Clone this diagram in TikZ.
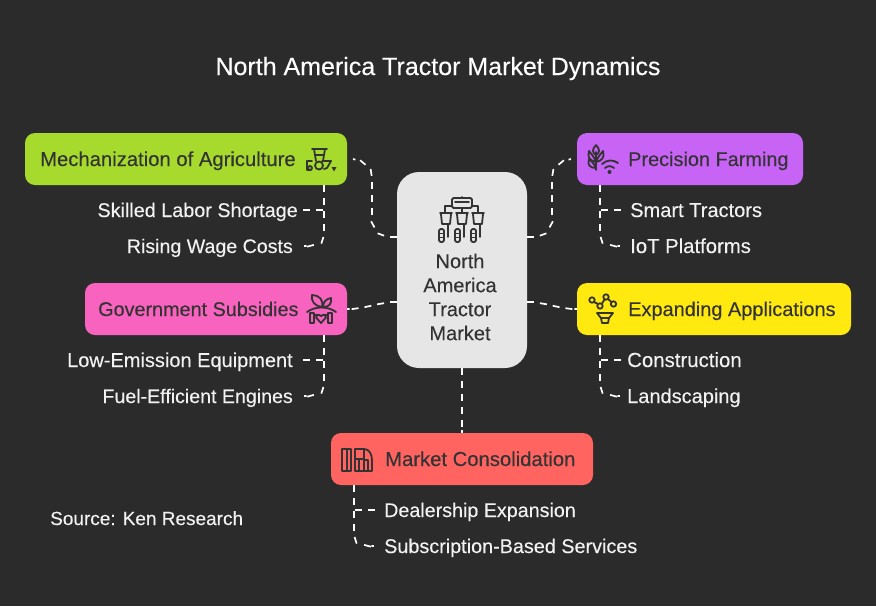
\documentclass[tikz,border=0pt]{standalone}
\usepackage{fontspec}
\setmainfont{Liberation Sans}
\newfontfamily\medfont[FakeBold=0.2]{Liberation Sans}
\usetikzlibrary{decorations.markings}
\definecolor{bgc}{HTML}{2B2B2B}
\definecolor{ink}{HTML}{333333}
\definecolor{lbl}{HTML}{F2F2F2}
\definecolor{cgreen}{HTML}{A6DB2E}
\definecolor{cpurple}{HTML}{C763F5}
\definecolor{cpink}{HTML}{F763BE}
\definecolor{cyellow}{HTML}{FFE90F}
\definecolor{cred}{HTML}{FF6461}
\definecolor{cgrey}{HTML}{E6E6E6}
\tikzset{
  x=1pt,y=-1pt,
  card/.style={rounded corners=10pt,inner sep=0pt,minimum height=52pt},
  hub/.style={fill=cgrey,rounded corners=22pt,minimum width=130pt,minimum height=196pt,inner sep=0pt},
  cardtext/.style={text=ink,inner sep=0pt,anchor=base west,font=\medfont\fontsize{#1}{24}\selectfont},
  subeast/.style={text=lbl,inner sep=0pt,anchor=base east,font=\medfont\fontsize{#1}{24}\selectfont},
  subwest/.style={text=lbl,inner sep=0pt,anchor=base west,font=\medfont\fontsize{#1}{24}\selectfont},
  link/.style={decorate,decoration={markings,
    mark=between positions 0 and -6pt step 13pt with {\draw[white,line width=1.7pt] (0,0) -- (7,0);},
    mark=at position 0.9999 with {\draw[white,line width=1.7pt] (-2.5,0) -- (0,0);}}},
  glyph/.style={draw=ink,line width=1.8pt,line cap=round,line join=round},
}
\begin{document}
\begin{tikzpicture}
\useasboundingbox (0,0) rectangle (876,606);
\fill[bgc] (0,0) rectangle (876,606);
\node[text=white,font=\medfont\fontsize{25}{30}\selectfont,inner sep=0pt,anchor=base] (title) at (438,75) {North America Tractor Market Dynamics};
\node[hub] (center) at (462,270) {};
\node[text=ink,font=\medfont\fontsize{20}{24}\selectfont,align=center,inner sep=0pt,anchor=center] (centerlabel) at (460,297) {North\\America\\Tractor\\Market};
\node[card,fill=cgreen,minimum width=322pt] (mech) at (186,159) {};
\node[card,fill=cpurple,minimum width=226pt] (prec) at (690,159) {};
\node[card,fill=cpink,minimum width=262pt] (gov) at (216,309) {};
\node[card,fill=cyellow,minimum width=274pt] (expa) at (714,309) {};
\node[card,fill=cred,minimum width=262pt] (cons) at (462,459) {};
% card labels
\node[cardtext=20.25] (t1) at (40,166) {Mechanization of Agriculture};
\node[cardtext=19.9] (t2) at (628,166) {Precision Farming};
\node[cardtext=19.8] (t3) at (98,316) {Government Subsidies};
\node[cardtext=19.95] (t4) at (628,316) {Expanding Applications};
\node[cardtext=20.25] (t5) at (385,466) {Market Consolidation};
% sub labels
\node[subeast=19.8] (a1) at (298,217) {Skilled Labor Shortage};
\node[subeast=19.6] (a2) at (293,253) {Rising Wage Costs};
\node[subwest=20.05] (b1) at (630,217) {Smart Tractors};
\node[subwest=20.3] (b2) at (630,253) {IoT Platforms};
\node[subeast=20] (c1) at (293,367) {Low-Emission Equipment};
\node[subeast=19.6] (c2) at (293,403) {Fuel-Efficient Engines};
\node[subwest=20.4] (d1) at (627,367) {Construction};
\node[subwest=20] (d2) at (627,403) {Landscaping};
\node[subwest=19.7] (e1) at (384,517) {Dealership Expansion};
\node[subwest=19.8] (e2) at (384,553) {Subscription-Based Services};
\node[subwest=19] (src) at (50,525) {Source: Ken Research};
% hub links
\coordinate (hl1) at (397,237);
\coordinate (hl2) at (527,237);
\coordinate (hl3) at (397,302);
\coordinate (hl4) at (527,302);
\coordinate (ml) at (353,159);
\coordinate (pl) at (571,159);
\path[link] (hl1) -- (392,237) .. controls (380,237) and (372,229) .. (372,217) -- (372,180) .. controls (372,168) and (365,162) .. (ml);
\path[link] (hl2) -- (532,237) .. controls (544,237) and (552,229) .. (552,217) -- (552,180) .. controls (552,168) and (559,162) .. (pl);
\path[link] (hl3) .. controls (380,302) and (365,309) .. (gov.east);
\path[link] (hl4) .. controls (544,302) and (559,309) .. (expa.west);
\path[link] (center.south) -- (cons.north);
% sub links
\coordinate (m0) at (324,185);
\coordinate (p0) at (600,185);
\coordinate (g0) at (324,335);
\coordinate (x0) at (600,335);
\coordinate (k0) at (354,485);
\coordinate (m1) at (304,210);
\coordinate (m2) at (304,246);
\coordinate (p1) at (620,210);
\coordinate (p2) at (620,246);
\coordinate (g1) at (304,360);
\coordinate (g2) at (304,396);
\coordinate (x1) at (620,360);
\coordinate (x2) at (620,396);
\coordinate (k1) at (374,510);
\coordinate (k2) at (374,546);
\path[link] (m0) -- (324,210) -- (m1);
\path[link] (324,211) -- (324,233) .. controls (324,241) and (318,246) .. (m2);
\path[link] (p0) -- (600,210) -- (p1);
\path[link] (600,211) -- (600,233) .. controls (600,241) and (606,246) .. (p2);
\path[link] (g0) -- (324,360) -- (g1);
\path[link] (324,361) -- (324,383) .. controls (324,391) and (318,396) .. (g2);
\path[link] (x0) -- (600,360) -- (x1);
\path[link] (600,361) -- (600,383) .. controls (600,391) and (606,396) .. (x2);
\path[link] (k0) -- (354,510) -- (k1);
\path[link] (354,511) -- (354,533) .. controls (354,541) and (360,546) .. (k2);
% tractor icon
\begin{scope}[glyph]
\draw (312,149) -- (327,149);
\draw (314,149) -- (316,161) (325,149) -- (323,161);
\draw (316,155) -- (324,155);
\draw (312,161) -- (307,161) -- (307,170) -- (311,170);
\draw (322,161) -- (331,161) -- (327,168) -- (324,169);
\draw (319,165.5) circle (4pt);
\draw (310,168) circle (2pt);
\fill[ink] (331.5,167) -- (336.5,167) -- (334,171.5) -- cycle;
\end{scope}
% wheat and wifi icon
\begin{scope}[glyph]
\draw (596,170) -- (596,152);
\draw (596,145) .. controls (592,149) and (592,153) .. (596,155) .. controls (600,153) and (600,149) .. (596,145);
\draw (596,162) .. controls (594,156) and (591,154) .. (589,151) .. controls (587,157) and (590,161) .. (596,162);
\draw (596,162) .. controls (598,156) and (601,154) .. (603,151) .. controls (605,157) and (602,161) .. (596,162);
\draw (596,168) .. controls (594,163) and (591,161) .. (589,159) .. controls (587,165) and (590,168) .. (596,168);
\draw (602,164) .. controls (607,159.5) and (613,159.5) .. (618,163);
\draw (605,168) .. controls (608,165.5) and (611,165.5) .. (614,168);
\fill[ink] (609.5,172) circle (2pt);
\end{scope}
% handshake and sprout icon
\begin{scope}[glyph]
\draw (322,307) .. controls (315,306) and (311,302) .. (312,295) .. controls (319,295) and (324,300) .. (322,307);
\draw (323,307) .. controls (323,302) and (326,299) .. (331,298) .. controls (332,304) and (329,307) .. (323,307);
\draw (307,312) .. controls (315,306) and (328,306) .. (336,312);
\draw (310,313) rectangle (314,323);
\draw (328,313) rectangle (332,323);
\draw (314,315) -- (319,315) (323,315) -- (328,315);
\draw (321,323) -- (316,317.5) .. controls (317,314) and (320,314) .. (321,316) .. controls (322,314) and (325,314) .. (326,317.5) -- cycle;
\end{scope}
% network and funnel icon
\begin{scope}[glyph]
\draw (592,300) circle (2.7pt);
\draw (600,306) circle (2.7pt);
\draw (606,297) circle (2.7pt);
\draw (613.5,304) circle (2.7pt);
\draw (594,302) -- (598,304) (602,303.5) -- (604.5,299.5) (608,299) -- (611.5,302);
\draw (597,313) -- (613,313) -- (609,318) -- (608,323) -- (602,323) -- (601,318) -- cycle;
\draw (601,318) -- (609,318);
\end{scope}
% books icon
\begin{scope}[glyph]
\draw (342,471) -- (342,449) -- (351,449) -- (351,471) -- cycle;
\draw (347,449) -- (347,471);
\draw (355,471) -- (355,449) -- (364,449) -- (364,471) -- cycle;
\draw (355,459) -- (364,459) (359,459) -- (359,471);
\draw (364,449) .. controls (369,449) and (372,454) .. (372,460) -- (372,471) -- (364,471);
\draw (364,460) -- (368,460) -- (368,471);
\end{scope}
% center icon
\begin{scope}[glyph]
\draw (462,197) -- (462,198);
\draw[rounded corners=1.5pt] (452,198) rectangle (472,208);
\draw (455,202) -- (469,202);
\draw (452,206) -- (445,206) -- (445,212);
\draw (472,206) -- (478,206) -- (478,212);
\draw (462,208) -- (462,212);
\foreach \xc in {446,462,478} {
  \draw (\xc-6,213) -- (\xc+6,213);
  \draw (\xc-5,214) -- (\xc-4,224) -- (\xc+4,224) -- (\xc+5,214);
  \draw (\xc+2,224) -- (\xc+2,237);
  \draw[rounded corners=2pt] (\xc-7,229) rectangle (\xc-2,242);
  \draw (\xc-6,233.5) -- (\xc-3,233.5) (\xc-6,237.5) -- (\xc-3,237.5);
}
\end{scope}
\end{tikzpicture}
\end{document}
